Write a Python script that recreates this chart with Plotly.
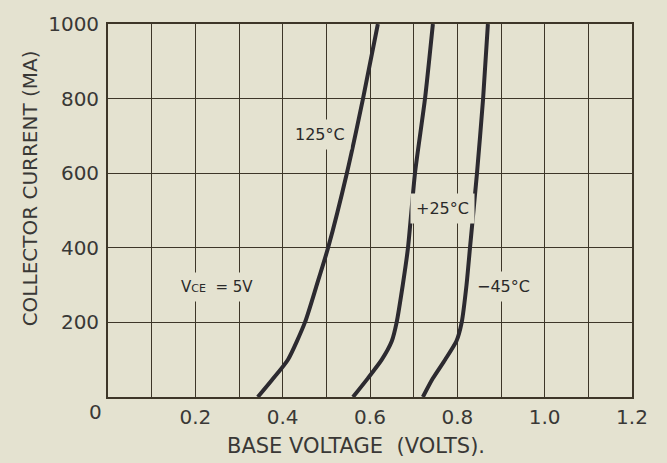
import plotly.graph_objects as go

# Data
v_125 = [0.343, 0.375, 0.412, 0.451, 0.478, 0.504, 0.547, 0.584, 0.618]
i_125 = [0, 45, 100, 200, 300, 400, 600, 800, 1000]
v_25 = [0.561, 0.595, 0.627, 0.650, 0.661, 0.675, 0.687, 0.703, 0.726, 0.744]
i_25 = [0, 50, 100, 150, 200, 300, 400, 600, 800, 1000]
v_m45 = [0.721, 0.744, 0.772, 0.798, 0.810, 0.821, 0.829, 0.845, 0.859, 0.870]
i_m45 = [0, 50, 100, 150, 200, 300, 400, 600, 800, 1000]

x_grid = [0.0, 0.1, 0.2, 0.3, 0.4, 0.5, 0.6, 0.7, 0.8, 0.9, 1.0, 1.1, 1.2]
x_ticktext = ["", "", "0.2", "", "0.4", "", "0.6", "", "0.8", "", "1.0", "", "1.2"]
y_ticks = [0, 200, 400, 600, 800, 1000]
y_ticktext = ["", "200", "400", "600", "800", "1000"]

BG = "#e4e2d0"
INK = "#2c2a30"
GRID = "#3d3628"
TXT = "#393836"
FONT = "DejaVu Sans"

fig = go.Figure()
for xs, ys in [(v_125, i_125), (v_25, i_25), (v_m45, i_m45)]:
    fig.add_trace(go.Scatter(x=xs, y=ys, mode="lines",
                             line=dict(color=INK, width=4, shape="spline", smoothing=0.6),
                             showlegend=False, hoverinfo="skip"))

fig.update_layout(
    width=667, height=463,
    margin=dict(l=108, r=35, t=18, b=66),
    paper_bgcolor=BG, plot_bgcolor=BG,
    font=dict(family=FONT, color=TXT, size=20),
    xaxis=dict(range=[0, 1.2], tickvals=x_grid, ticktext=x_ticktext,
               showgrid=True, gridcolor=GRID, gridwidth=1.3,
               showline=True, linecolor=GRID, linewidth=1.8, mirror=True,
               ticks="outside", ticklen=1, tickcolor="rgba(0,0,0,0)",
               zeroline=False, tickfont=dict(size=20, color=TXT)),
    yaxis=dict(range=[0, 1000], tickvals=y_ticks, ticktext=y_ticktext,
               showgrid=True, gridcolor=GRID, gridwidth=1.3,
               showline=True, linecolor=GRID, linewidth=1.8, mirror=True,
               ticks="outside", ticklen=3, tickcolor="rgba(0,0,0,0)",
               zeroline=False, tickfont=dict(size=20, color=TXT)),
)

ann_common = dict(showarrow=False, bgcolor=BG, borderpad=5,
                  xanchor="center", yanchor="middle")
fig.add_annotation(x=0.485, y=705, text="125°C", font=dict(size=16, color="#2a2a2a"), **ann_common)
fig.add_annotation(x=0.765, y=506, text="+25°C", font=dict(size=16, color="#2a2a2a"), **ann_common)
fig.add_annotation(x=0.905, y=295, text="−45°C", font=dict(size=16, color="#2a2a2a"), **ann_common)
fig.add_annotation(x=0.25, y=295, text="V<span style='font-size:11px'>CE</span>  = 5V",
                   font=dict(size=15, color="#2a2a2a"), **ann_common)

pa = dict(xref="paper", yref="paper", showarrow=False, xanchor="center", yanchor="middle")
fig.add_annotation(x=(95 - 108) / 524, y=(397 - 412) / 379, text="0",
                   font=dict(size=20, color=TXT), **pa)
fig.add_annotation(x=(356 - 108) / 524, y=(397 - 447) / 379,
                   text="BASE VOLTAGE  (VOLTS).", font=dict(size=21, color=TXT), **pa)
fig.add_annotation(x=(30 - 108) / 524, y=(397 - 185) / 379,
                   text="COLLECTOR CURRENT (MA)", textangle=-90,
                   font=dict(size=20, color=TXT), **pa)

fig.write_html("out.html")
